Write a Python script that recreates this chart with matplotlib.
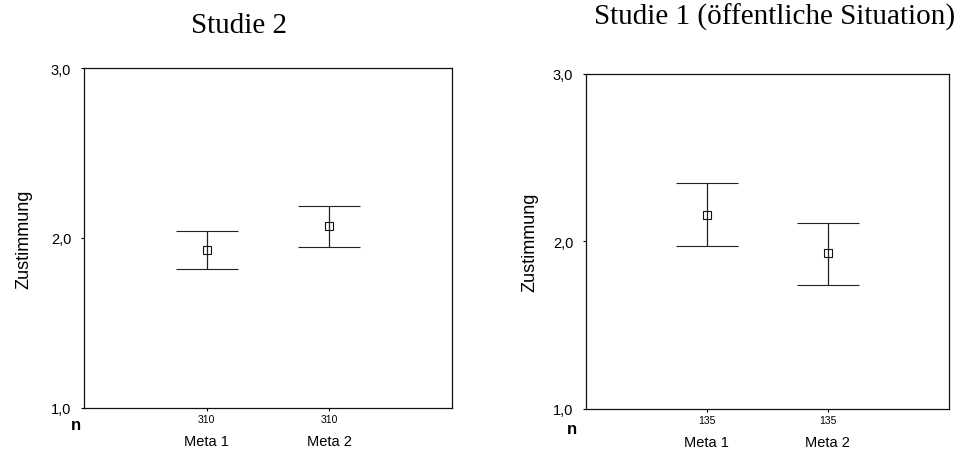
import matplotlib
matplotlib.use("Agg")
import matplotlib.pyplot as plt

# Mean agreement with 95% confidence intervals per meta condition
categories = ["Meta 1", "Meta 2"]
y_ticks = [1.0, 2.0, 3.0]

studie2_mean = [1.93, 2.07]
studie2_lower = [1.82, 1.95]
studie2_upper = [2.04, 2.19]
studie2_n = [310, 310]

studie1_mean = [2.16, 1.93]
studie1_lower = [1.97, 1.74]
studie1_upper = [2.35, 2.11]
studie1_n = [135, 135]

W, H = 972, 452
plt.rcParams["font.family"] = ["Liberation Sans", "DejaVu Sans"]

fig = plt.figure(figsize=(W / 100, H / 100), dpi=100)


def rect(x0, y0, x1, y1):
    return [x0 / W, 1 - y1 / H, (x1 - x0) / W, (y1 - y0) / H]


def panel(ax, mean, lower, upper, n):
    x = list(range(1, len(categories) + 1))
    yerr = [[m - lo for m, lo in zip(mean, lower)],
            [up - m for m, up in zip(mean, upper)]]
    ax.errorbar(x, mean, yerr=yerr, fmt="s", ms=5.6, mfc="none",
                mec="#111111", mew=0.8, ecolor="#222222", elinewidth=0.9,
                capsize=22, capthick=0.9, color="#111111")
    ax.set_xlim(0, len(categories) + 1)
    ax.set_ylim(y_ticks[0], y_ticks[-1])
    ax.set_yticks(y_ticks)
    ax.set_yticklabels([f"{v:.1f}".replace(".", ",") for v in y_ticks])
    ax.set_xticks(x)
    ax.set_xticklabels([str(v) for v in n])
    ax.tick_params(axis="y", direction="out", length=2.2, width=0.8,
                   pad=7, labelsize=10.5)
    ax.tick_params(axis="x", direction="out", length=2.2, width=0.8,
                   pad=2, labelsize=7.5)
    for s in ax.spines.values():
        s.set_linewidth(0.9)
        s.set_color("#111111")
    for xi, name in zip(x, categories):
        ax.annotate(name, xy=(xi, 0), xycoords=("data", "axes fraction"),
                    xytext=(0, -24), textcoords="offset points",
                    ha="center", va="center", fontsize=10.5)
    ax.set_ylabel("Zustimmung", fontsize=13, va="center")


ax1 = fig.add_axes(rect(84, 69, 452, 409))
panel(ax1, studie2_mean, studie2_lower, studie2_upper, studie2_n)
ax1.yaxis.set_label_coords(-0.163, 0.5)

ax2 = fig.add_axes(rect(586, 74.7, 948.7, 410))
panel(ax2, studie1_mean, studie1_lower, studie1_upper, studie1_n)
ax2.yaxis.set_label_coords(-0.156, 0.5)

serif = ["Liberation Serif", "DejaVu Serif"]
fig.text(239 / W, 1 - 33 / H, "Studie 2", ha="center", va="baseline",
         fontsize=21, family=serif)
fig.text(774.5 / W, 1 - 25 / H, "Studie 1 (öffentliche Situation)",
         ha="center", va="baseline", fontsize=21, family=serif)

fig.text(75.7 / W, 1 - 430 / H, "n", ha="center", va="baseline",
         fontsize=12, fontweight="bold")
fig.text(571.5 / W, 1 - 434 / H, "n", ha="center", va="baseline",
         fontsize=12, fontweight="bold")

fig.savefig("out.png", dpi=100)
